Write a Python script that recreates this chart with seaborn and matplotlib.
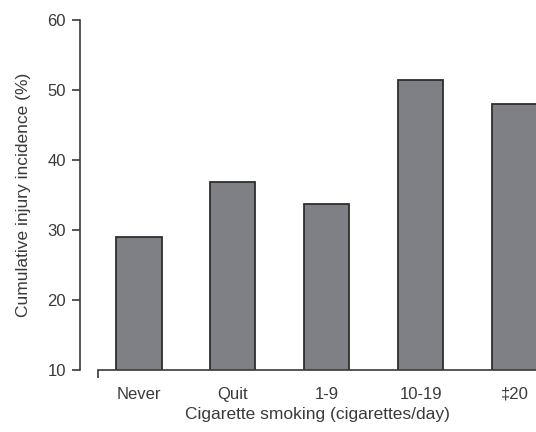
import matplotlib
matplotlib.use("Agg")
import matplotlib.pyplot as plt
import pandas as pd
import seaborn as sns

# Data
categories = ["Never", "Quit", "1-9", "10-19", "\u202120"]
incidence = [29.0, 36.8, 33.7, 51.5, 48.0]

df = pd.DataFrame({"smoking": categories, "incidence": incidence})

sns.set_style("white")
plt.rcParams['font.family'] = ['Liberation Sans', 'DejaVu Sans']

fig = plt.figure(figsize=(5.36, 4.32), dpi=100)
ax = fig.add_axes([98 / 536, 62 / 432, 1 - 98 / 536, 350 / 432])

sns.barplot(data=df, x="smoking", y="incidence", color="#7f8085",
            edgecolor="#2e2e2e", linewidth=1.3, width=0.48, saturation=1, ax=ax)

ax.set_ylim(10, 60)
ax.set_yticks([10, 20, 30, 40, 50, 60])
ax.set_xlim(-0.436, 4.225)

# axes styling
for s in ["top", "right"]:
    ax.spines[s].set_visible(False)
ax.spines["left"].set_position(("outward", 13))
ax.spines["left"].set_color("#3a3a3a")
ax.spines["bottom"].set_color("#3a3a3a")
ax.spines["left"].set_linewidth(1.2)
ax.spines["bottom"].set_linewidth(1.2)

ax.tick_params(axis="y", direction="out", length=6, width=1.2, color="#3a3a3a",
               labelsize=12, labelcolor="#3a3a3a", pad=4, left=True)
ax.tick_params(axis="x", length=0, labelsize=12, labelcolor="#3a3a3a", pad=12)
# small tick at the start of the x axis
ax.set_xticks([-0.434], minor=True)
ax.tick_params(axis="x", which="minor", bottom=True, direction="out", length=6,
               width=1.2, color="#3a3a3a")

ax.set_xlabel("Cigarette smoking (cigarettes/day)", fontsize=12.5, color="#3a3a3a", labelpad=4)
ax.set_ylabel("Cumulative injury incidence (%)", fontsize=12.5, color="#3a3a3a", labelpad=12)

fig.savefig("out.png", dpi=100)
